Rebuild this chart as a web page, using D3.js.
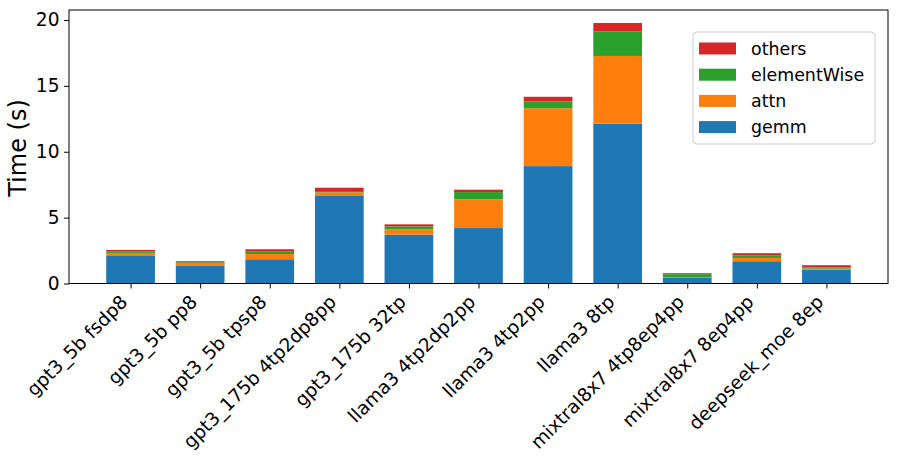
<!DOCTYPE html>
<html>
<head>
<meta charset="utf-8">
<script src="https://cdn.jsdelivr.net/npm/d3@7"></script>
<style>
  body { margin: 0; background: #fff; }
  text { font-family: "DejaVu Sans", sans-serif; fill: #000; }
</style>
</head>
<body>
<svg id="chart" width="897" height="458"></svg>
<script>
// data
var configs = ["gpt3_5b fsdp8", "gpt3_5b pp8", "gpt3_5b tpsp8", "gpt3_175b 4tp2dp8pp",
  "gpt3_175b 32tp", "llama3 4tp2dp2pp", "llama3 4tp2pp", "llama3 8tp",
  "mixtral8x7 4tp8ep4pp", "mixtral8x7 8ep4pp", "deepseek_moe 8ep"];
var gemm        = [2.14, 1.33, 1.84, 6.69, 3.71, 4.21, 8.91, 12.14, 0.43, 1.69, 1.03];
var attn        = [0.18, 0.18, 0.40, 0.23, 0.40, 2.18, 4.39, 5.13, 0.02, 0.25, 0.10];
var elementWise = [0.13, 0.10, 0.18, 0.10, 0.23, 0.55, 0.53, 1.87, 0.26, 0.18, 0.08];
var others      = [0.10, 0.08, 0.18, 0.25, 0.15, 0.18, 0.34, 0.63, 0.07, 0.18, 0.18];
var yTicks = [0, 5, 10, 15, 20];

(function(){
var keys = ["gemm", "attn", "elementWise", "others"];
var colors = {gemm: "#1f77b4", attn: "#ff7f0e", elementWise: "#2ca02c", others: "#d62728"};

var rows = configs.map(function(c, i){
  return {name: c, gemm: gemm[i], attn: attn[i], elementWise: elementWise[i], others: others[i]};
});

var pLeft = 69, pRight = 888, pTop = 10, pBottom = 283.5;
var barW = 0.7;
var fs = "18.6px";   // tick labels
var lfs = "17.4px";  // legend
var svg = d3.select("#chart");

// index scale like matplotlib: bar centres at 0..n-1, 5% margins
var n = configs.length;
var x = d3.scaleLinear()
  .domain([-barW/2 - 0.05*(n - 1 + barW), n - 1 + barW/2 + 0.05*(n - 1 + barW)])
  .range([pLeft, pRight]);
var totals = rows.map(function(r){ return r.gemm + r.attn + r.elementWise + r.others; });
var y = d3.scaleLinear().domain([0, d3.max(totals) * 1.05]).range([pBottom, pTop]);

var stack = d3.stack().keys(keys)(rows);

var g = svg.append("g");
stack.forEach(function(layer){
  g.selectAll(null)
    .data(layer)
    .enter().append("rect")
    .attr("x", function(d, i){ return x(i - barW/2); })
    .attr("width", x(barW) - x(0))
    .attr("y", function(d){ return y(d[1]); })
    .attr("height", function(d){ return y(d[0]) - y(d[1]); })
    .style("fill", colors[layer.key]);
});

// axes
var yAxis = d3.axisLeft(y).tickValues(yTicks).tickSize(5).tickPadding(4.5);
var ya = svg.append("g").attr("transform", "translate(" + pLeft + ",0)").call(yAxis);
ya.select(".domain").remove();
ya.selectAll("text").style("font-size", fs).attr("font-family", "DejaVu Sans");

var xAxis = d3.axisBottom(x).tickValues(d3.range(n)).tickSize(5).tickFormat(function(i){ return configs[i]; });
var xa = svg.append("g").attr("transform", "translate(0," + pBottom + ")").call(xAxis);
xa.select(".domain").remove();
xa.selectAll("text")
  .style("font-size", fs)
  .attr("font-family", "DejaVu Sans")
  .attr("text-anchor", "end")
  .attr("dy", "0.35em")
  .attr("transform", "translate(-7,15) rotate(-45)")
  .attr("y", 0).attr("x", 0);

// frame
svg.append("rect")
  .attr("x", pLeft).attr("y", pTop)
  .attr("width", pRight - pLeft).attr("height", pBottom - pTop)
  .style("fill", "none").style("stroke", "#000").style("stroke-width", 1);

// y label
svg.append("text")
  .attr("transform", "translate(26,148) rotate(-90)")
  .attr("text-anchor", "middle")
  .style("font-size", "24px")
  .text("Time (s)");

// legend
var lg = svg.append("g").attr("transform", "translate(693,32)");
lg.append("rect")
  .attr("width", 182).attr("height", 112).attr("rx", 4)
  .style("fill", "#fff").style("fill-opacity", 0.8)
  .style("stroke", "#ccc");
keys.slice().reverse().forEach(function(k, i){
  var cy = 16.5 + i * 26.2;
  lg.append("rect").attr("x", 6).attr("y", cy - 6).attr("width", 37).attr("height", 12).style("fill", colors[k]);
  lg.append("text").attr("x", 58).attr("y", cy).attr("dy", "0.35em").style("font-size", lfs).text(k);
});
})();
</script>
</body>
</html>
